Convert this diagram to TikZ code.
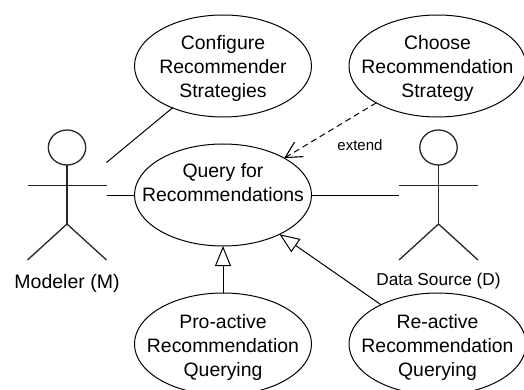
\documentclass[tikz,border=0pt]{standalone}
\usepackage{fontspec}
\setmainfont{Liberation Sans}
\usetikzlibrary{shapes.geometric,arrows.meta,calc}
\tikzset{
  usecase/.style={ellipse,draw=black,line width=1pt,inner xsep=-25pt,inner ysep=-5pt,outer sep=0pt,minimum width=177pt,minimum height=102pt,align=center,text height=64pt,text depth=0pt,font=\fontsize{19.4}{24}\selectfont},
  actorbox/.style={rectangle,inner sep=0pt,outer sep=0pt,minimum width=79pt,minimum height=130pt},
  actorline/.style={draw=black!85,line width=1.3pt},
  assoc/.style={draw=black,line width=1pt},
  genlink/.style={draw=black,line width=1pt,-{Triangle[open,length=20pt,width=16pt]}},
  extlink/.style={draw=black,line width=1pt,dashed,dash pattern=on 6pt off 4pt,-{Straight Barb[length=16pt,width=17pt,line width=1.1pt]}},
  actorlabel/.style={anchor=base,inner sep=0pt},
}
\newcommand{\stickfigure}[1]{%
  \draw[actorline] ($(#1.north)+(0,17.5)$) ellipse [x radius=18.7,y radius=17.5];
  \draw[actorline] ($(#1.north)+(0,35)$) -- ($(#1.north)+(0,94)$);
  \draw[actorline] ($(#1.north west)+(0,55.5)$) -- ($(#1.north east)+(0,55.5)$);
  \draw[actorline] (#1.south west) -- ($(#1.north)+(0,94)$) -- (#1.south east);
}
\begin{document}
\begin{tikzpicture}[x=1pt,y=-1pt]
\useasboundingbox (0,0) rectangle (524,390);
\clip (0,0) rectangle (524,390);
\node[usecase] (cfg) at (223,66) {Configure\\Recommender\\Strategies};
\node[usecase] (cho) at (437.5,66) {Choose\\Recommendation\\Strategy};
\node[usecase,text height=60pt] (qry) at (223,195) {Query for\\Recommendations\\\mbox{}};
\node[usecase] (pro) at (223,344) {Pro-active\\Recommendation\\Querying};
\node[usecase] (rea) at (437.5,344) {Re-active\\Recommendation\\Querying};
\node[actorbox] (mod) at (67,195) {};
\node[actorbox] (src) at (438.5,195) {};
\stickfigure{mod}
\stickfigure{src}
\coordinate (modup) at ($(mod.east)+(0,-32.5)$);
\node[actorlabel,font=\fontsize{19.5}{22}\selectfont] (modlab) at (67,288) {Modeler (M)};
\node[actorlabel,font=\fontsize{17.2}{21}\selectfont] (srclab) at (438.5,285.7) {Data Source (D)};
\node[actorlabel,font=\fontsize{15}{18}\selectfont] (extlab) at (360,150.5) {extend};
\draw[assoc] (modup) -- (cfg);
\draw[assoc] (mod.east) -- (qry.west);
\draw[assoc] (src.west) -- (qry.east);
\draw[extlink] (cho) -- (qry);
\draw[genlink] (pro) -- (qry);
\draw[genlink] (rea) -- (qry);
\end{tikzpicture}
\end{document}
